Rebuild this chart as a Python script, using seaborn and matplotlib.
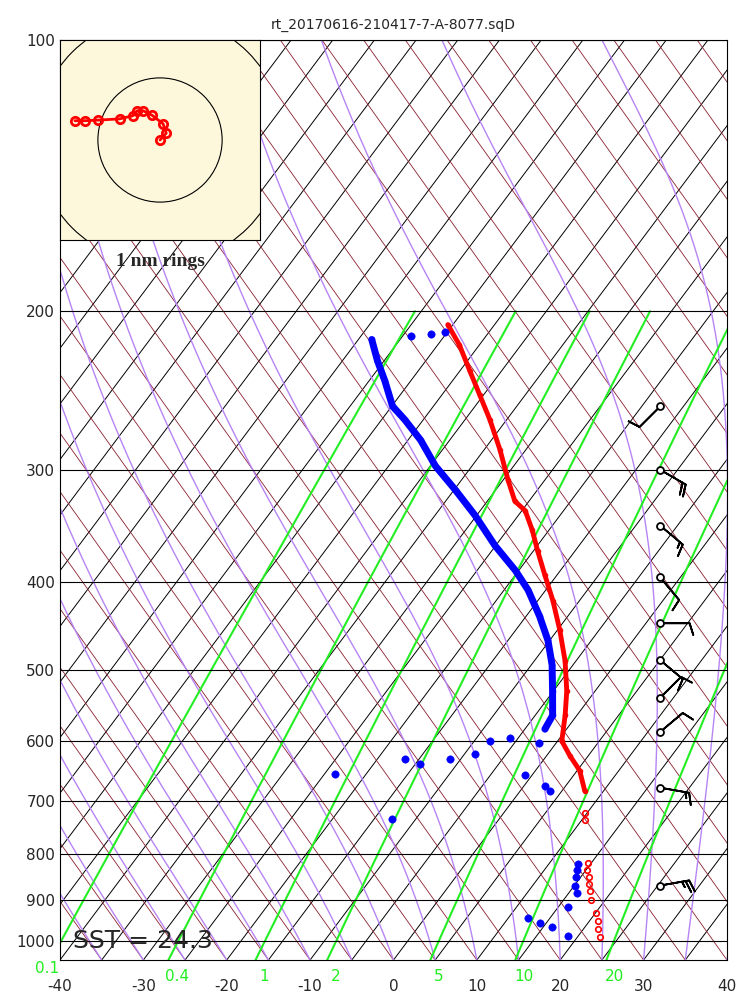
import numpy as np
import matplotlib
matplotlib.use("Agg")
import matplotlib.pyplot as plt
import seaborn as sns
from matplotlib.patches import Circle

sns.set_style("white")
plt.rcParams['font.family'] = ['DejaVu Sans']

# Skew factor (x units per decade of pressure) and bottom pressure
SKEW = 81.0
P_BOT = 1050.0

# Temperature trace, continuous part (hPa, degC)
t_pres = [207, 218, 233, 248, 264, 285, 308, 325, 333, 350, 369, 393, 419, 452,
          489, 528, 562, 600, 623, 647, 681]
t_temp = [-50.6, -47.4, -43.8, -40.4, -37.0, -33.1, -29.4, -26.7, -24.6, -22.0,
          -19.5, -16.4, -13.2, -9.7, -6.3, -3.4, -1.4, 0.5, 2.8, 5.3, 7.7]

# Temperature, sparse lower part (open circles)
tl_pres = [722, 735, 820, 835, 850, 865, 880, 900, 930, 950, 970, 990]
tl_temp = [9.8, 10.4, 14.6, 15.2, 16.0, 16.6, 17.4, 18.3, 20.0, 21.0, 21.8, 22.7]

# Dewpoint main trace
td_pres = [215, 227, 239, 255, 264, 278, 297, 316, 337, 364, 388, 408, 436, 464,
           494, 528, 562, 582]
td_temp = [-58.4, -55.8, -53.1, -49.9, -47.2, -43.5, -39.4, -34.8, -30.2, -25.1,
           -20.4, -17.1, -13.4, -10.2, -7.5, -5.1, -2.9, -2.6]

# Scattered dewpoint dots
tdd_pres = [213, 212, 211, 603, 595, 600, 628, 620, 636, 628, 652, 655, 673, 681,
            732, 822, 835, 850, 870, 884, 918, 943, 955, 965, 987]
tdd_temp = [-54.0, -51.8, -50.3, -2.0, -6.0, -8.1, -11.3, -8.8, -14.5, -16.7, -23.8,
            -0.8, 2.5, 3.5, -12.9, 13.5, 14.0, 14.5, 15.2, 16.0, 16.2, 12.3, 14.2,
            16.0, 18.7]

# Wind barbs
w_pres = [255, 300, 346, 395, 444, 488, 537, 586, 676, 868]
w_dir = [225, 120, 130, 140, 90, 130, 45, 50, 100, 80]
w_spd = [10, 20, 15, 10, 10, 10, 10, 10, 15, 25]

# Hodograph (nm)
hodo_x = [-1.37, -1.21, -1.0, -0.65, -0.44, -0.37, -0.27, -0.13, 0.05, 0.10, 0.0]
hodo_y = [0.31, 0.31, 0.32, 0.34, 0.39, 0.47, 0.47, 0.40, 0.26, 0.11, 0.0]

# Mixing ratio lines (g/kg)
mr_vals = [0.1, 0.4, 1, 2, 5, 10, 20]
mr_labels = ["0.1", "0.4", "1", "2", "5", "10", "20"]

x_ticks = [-40, -30, -20, -10, 0, 10, 20, 30, 40]
p_ticks = [100, 200, 300, 400, 500, 600, 700, 800, 900, 1000]


def skx(t, p):
    return np.asarray(t) + SKEW * np.log10(P_BOT / np.asarray(p, dtype=float))


def esat(tc):
    return 6.112 * np.exp(17.67 * tc / (tc + 243.5))


def rsat(tc, p):
    e = esat(tc)
    return 0.622 * e / (p - e)


def dewpt(w, p):
    e = w * p / (0.622 + w)
    a = np.log(e / 6.112)
    return 243.5 * a / (17.67 - a)


fig = plt.figure(figsize=(7.5, 10), dpi=100)
ax = fig.add_axes([0.08, 0.04, 0.8893, 0.92])
ax.set_yscale("log")
ax.set_ylim(P_BOT, 100)
ax.set_xlim(-40, 40)

pp = np.logspace(np.log10(100), np.log10(P_BOT), 100)
lg = np.log10(P_BOT / pp)

# isotherms (black) and dry-adiabat style lines (brown), straight and mirrored
for x0 in np.arange(-140, 45, 5):
    ax.plot(x0 + SKEW * lg, pp, color="black", lw=0.7, zorder=1)
for x0 in np.arange(-40, 150, 5):
    ax.plot(x0 - 0.95 * SKEW * lg, pp, color="#8b2030", lw=0.6, zorder=1)

# moist adiabats
pm = np.logspace(np.log10(P_BOT), np.log10(100), 300)
for t0 in np.arange(-40, 45, 5):
    tk = t0 + 273.15
    temps = [tk]
    for i in range(1, len(pm)):
        p = pm[i - 1]
        rs = rsat(tk - 273.15, p)
        dtdp = (287.0 * tk + 2.5e6 * rs) / (p * (1004.0 + 2.5e6 ** 2 * rs * 0.622 / (287.0 * tk ** 2)))
        tk = tk + dtdp * (pm[i] - p)
        temps.append(tk)
    ax.plot(skx(np.array(temps) - 273.15, pm), pm, color="#b784f5", lw=1.0, zorder=1)

# mixing ratio lines
pg = np.logspace(np.log10(200), np.log10(P_BOT), 100)
for w, lab in zip(mr_vals, mr_labels):
    ax.plot(skx(dewpt(w / 1000.0, pg), pg), pg, color="#22ee22", lw=1.5, zorder=1)
    xb = dewpt(w / 1000.0, P_BOT) + 1.0
    if lab == "0.1":
        ax.text(-41.5, 1052, lab, color="#22ee22", fontsize=11, ha="center", va="top")
    else:
        ax.text(xb, 1075, lab, color="#22ee22", fontsize=11, ha="center", va="top")

# isobars
for p in p_ticks:
    ax.axhline(p, color="black", lw=0.8, zorder=2)

# sounding
ax.plot(skx(t_temp, t_pres), t_pres, color="red", lw=3.5, marker="o", ms=3, zorder=4)
ax.plot(skx(tl_temp, tl_pres), tl_pres, "o", ms=4, mfc="none", mec="red", mew=1.2, zorder=4)
ax.plot(skx(td_temp, td_pres), td_pres, color="blue", lw=5, marker="o", ms=3, zorder=4)
sns.scatterplot(x=skx(tdd_temp, tdd_pres), y=tdd_pres, color="blue", s=28,
                edgecolor="blue", ax=ax, zorder=4)

# wind barbs
wd = np.radians(w_dir)
u = -np.array(w_spd) * np.sin(wd)
v = -np.array(w_spd) * np.cos(wd)
bx = np.full(len(w_pres), 32.0)
ax.barbs(bx, w_pres, u, v, length=6.5, lw=1.3,
         color="black", zorder=5, clip_on=False)
ax.plot(bx, w_pres, "o", ms=5, mfc="white", mec="black", mew=1.3, zorder=6)

ax.text(-38.5, 1000, "SST = 24.3", fontsize=18, va="center", zorder=6)

ax.set_yticks(p_ticks)
ax.set_yticklabels([str(p) for p in p_ticks], fontsize=11)
ax.yaxis.set_minor_locator(matplotlib.ticker.NullLocator())
ax.set_xticks(x_ticks)
ax.set_xticklabels([str(x) for x in x_ticks], fontsize=11)
ax.tick_params(axis="x", pad=14, length=0)
ax.tick_params(axis="y", length=0)
for s in ax.spines.values():
    s.set_color("black")
    s.set_linewidth(0.8)
ax.set_title("rt_20170616-210417-7-A-8077.sqD", fontsize=10, pad=8)

# hodograph inset
hx = fig.add_axes([0.08, 0.76, 0.2667, 0.2])
hx.set_facecolor("#fdf8dc")
hx.set_xlim(-1.61, 1.61)
hx.set_ylim(-1.61, 1.61)
for r in (1, 2):
    hx.add_patch(Circle((0, 0), r, fill=False, color="black", lw=0.8))
hx.plot(hodo_x, hodo_y, color="red", lw=2, marker="o", ms=6, mfc="none", mew=2)
hx.set_xticks([])
hx.set_yticks([])
for s in hx.spines.values():
    s.set_color("black")
    s.set_linewidth(0.8)
fig.text(0.214, 0.739, "1 nm rings", fontsize=14, fontweight="bold",
         family="Liberation Serif", ha="center", va="center")

fig.savefig("out.png", dpi=100)
